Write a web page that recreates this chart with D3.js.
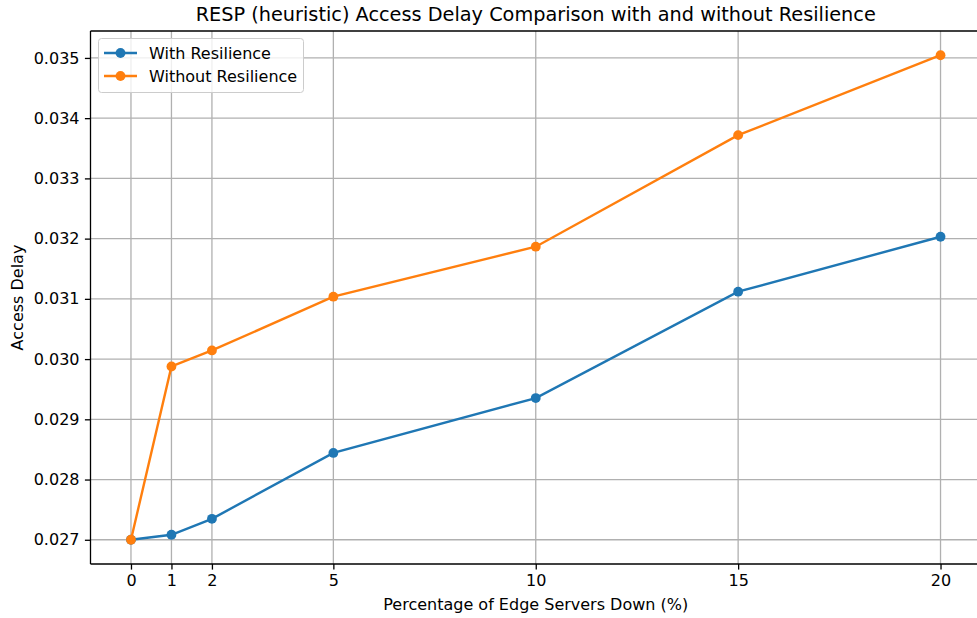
<!doctype html>
<html>
<head>
<meta charset="utf-8">
<style>
  * { margin: 0; padding: 0; }
  body { background: #fff; width: 977px; height: 618px; overflow: hidden; }
  text { font-family: "DejaVu Sans", sans-serif; fill: #000; }
</style>
</head>
<body>
<div id="main"></div>
<script src="https://cdn.jsdelivr.net/npm/d3@7"></script>
<script>
var pct = [0, 1, 2, 5, 10, 15, 20]
var withRes = [0.02700, 0.027083, 0.027348, 0.028442, 0.029353, 0.031119, 0.032031]
var withoutRes = [0.02700, 0.029877, 0.030143, 0.031036, 0.031866, 0.033718, 0.035045]
var yTicks = [0.027, 0.028, 0.029, 0.030, 0.031, 0.032, 0.033, 0.034, 0.035]
var seriesNames = ['With Resilience', 'Without Resilience']
var colors = ['#1f77b4', '#ff7f0e']

var width = 977, height = 618
var plotL = 90.5, plotR = 981, plotT = 31, plotB = 564
var fs = '16px'

var svg = d3.select('#main').append('svg').attr('width', width).attr('height', height)

var x = d3.scaleLinear().domain([-1, 21]).range([plotL, plotR])
var ymin = 0.027, ymax = d3.max(withoutRes), pad = (ymax - ymin) * 0.05
var y = d3.scaleLinear().domain([ymin - pad, ymax + pad]).range([plotB, plotT])

// grid
var grid = svg.append('g')
grid.selectAll('.gx').data(pct).enter().append('line')
  .attr('x1', function(d){ return x(d) }).attr('x2', function(d){ return x(d) })
  .attr('y1', plotT).attr('y2', plotB)
  .attr('stroke', '#b0b0b0').attr('stroke-width', 1.3)
grid.selectAll('.gy').data(yTicks).enter().append('line')
  .attr('y1', function(d){ return y(d) }).attr('y2', function(d){ return y(d) })
  .attr('x1', plotL).attr('x2', plotR)
  .attr('stroke', '#b0b0b0').attr('stroke-width', 1.3)

// axes
var xAxis = d3.axisBottom(x).tickValues(pct).tickSize(5.6).tickPadding(5).tickFormat(d3.format('d'))
var yAxis = d3.axisLeft(y).tickValues(yTicks).tickSize(5.6).tickPadding(5.4).tickFormat(d3.format('.3f'))

var gx = svg.append('g').attr('transform', 'translate(0,' + plotB + ')').call(xAxis)
var gy = svg.append('g').attr('transform', 'translate(' + plotL + ',0)').call(yAxis)
;[gx, gy].forEach(function(g){
  g.attr('font-size', fs).attr('font-family', 'DejaVu Sans')
  g.select('.domain').remove()
  g.selectAll('line').attr('stroke', '#000').attr('stroke-width', 1.3)
  g.selectAll('text').attr('fill', '#000')
})

// spines
svg.append('line').attr('x1', plotL).attr('x2', plotL).attr('y1', plotT).attr('y2', plotB)
  .attr('stroke', '#000').attr('stroke-width', 1.3)
svg.append('line').attr('x1', plotL).attr('x2', plotR).attr('y1', plotB).attr('y2', plotB)
  .attr('stroke', '#000').attr('stroke-width', 1.3)
svg.append('line').attr('x1', plotL).attr('x2', plotR).attr('y1', plotT).attr('y2', plotT)
  .attr('stroke', '#000').attr('stroke-width', 1.3)

// series
var line = d3.line().x(function(d){ return x(d[0]) }).y(function(d){ return y(d[1]) })
;[withRes, withoutRes].forEach(function(vals, i){
  var pts = pct.map(function(p, j){ return [p, vals[j]] })
  svg.append('path').datum(pts).attr('d', line)
    .attr('fill', 'none').attr('stroke', colors[i]).attr('stroke-width', 2.4)
  svg.selectAll('.pt' + i).data(pts).enter().append('circle')
    .attr('cx', function(d){ return x(d[0]) }).attr('cy', function(d){ return y(d[1]) })
    .attr('r', 4.9).attr('fill', colors[i])
})

// title and labels
svg.append('text').attr('x', (plotL + plotR) / 2).attr('y', 21)
  .attr('text-anchor', 'middle').attr('font-size', '19.3px')
  .text('RESP (heuristic) Access Delay Comparison with and without Resilience')
svg.append('text').attr('x', (plotL + plotR) / 2).attr('y', 610)
  .attr('text-anchor', 'middle').attr('font-size', fs)
  .text('Percentage of Edge Servers Down (%)')
svg.append('text').attr('transform', 'translate(23,' + ((plotT + plotB) / 2) + ') rotate(-90)')
  .attr('text-anchor', 'middle').attr('font-size', fs)
  .text('Access Delay')

// legend
var legend = svg.append('g')
legend.append('rect').attr('x', 98.5).attr('y', 38.5).attr('width', 205).attr('height', 54)
  .attr('rx', 3).attr('fill', '#fff').attr('fill-opacity', 0.8)
  .attr('stroke', '#cccccc').attr('stroke-width', 1)
seriesNames.forEach(function(name, i){
  var ly = 53 + i * 23
  legend.append('line').attr('x1', 104).attr('x2', 137).attr('y1', ly).attr('y2', ly)
    .attr('stroke', colors[i]).attr('stroke-width', 2.4)
  legend.append('circle').attr('cx', 120.5).attr('cy', ly).attr('r', 4.9).attr('fill', colors[i])
  legend.append('text').attr('x', 149).attr('y', ly + 5.5).attr('font-size', fs).text(name)
})
</script>
</body>
</html>
